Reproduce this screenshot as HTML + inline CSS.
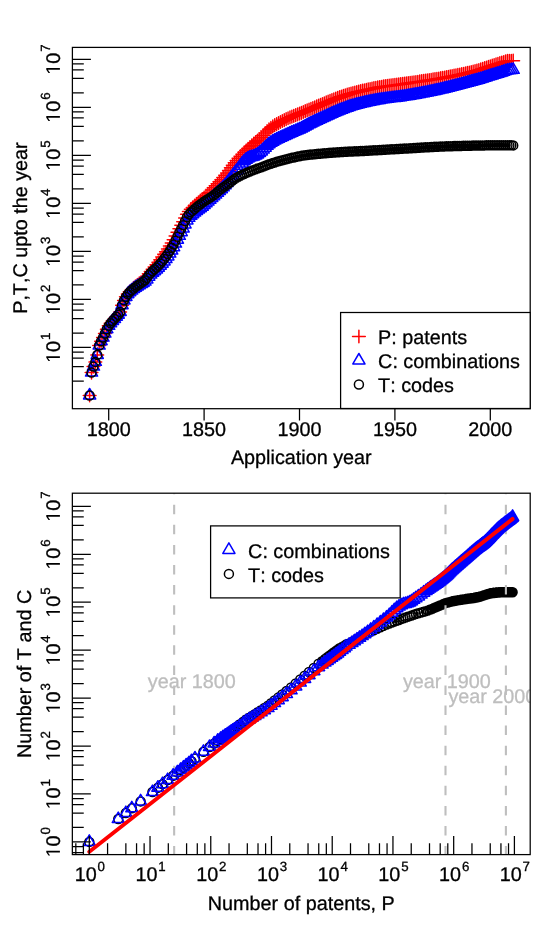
<!DOCTYPE html>
<html><head><meta charset="utf-8"><title>chart</title>
<style>html,body{margin:0;padding:0;background:#fff}svg{display:block;will-change:transform}</style></head>
<body>
<svg width="554" height="927" viewBox="0 0 554 927">
<rect width="554" height="927" fill="#fff"/>
<g font-family="Liberation Sans, sans-serif" font-size="19.8" fill="#000" stroke="#000" stroke-width="0.3" style="font-kerning:none;text-rendering:geometricPrecision">
<path d="M83.26 395.5h12.72M89.62 389.14v12.72M85.17 372.59h12.72M91.53 366.23v12.72M87.08 366.59h12.72M93.44 360.23v12.72M88.98 361.88h12.72M95.34 355.52v12.72M90.89 354.91h12.72M97.25 348.55v12.72M92.8 345.55h12.72M99.16 339.19v12.72M94.71 341.23h12.72M101.07 334.87v12.72M96.62 337.62h12.72M102.98 331.26v12.72M98.52 333.54h12.72M104.88 327.18v12.72M100.43 329.22h12.72M106.79 322.86v12.72M102.34 325.86h12.72M108.7 319.5v12.72M104.25 323.31h12.72M110.61 316.95v12.72M106.16 321.05h12.72M112.52 314.69v12.72M108.06 318.89h12.72M114.42 312.53v12.72M109.97 316.73h12.72M116.33 310.37v12.72M111.88 314.69h12.72M118.24 308.33v12.72M113.79 311.93h12.72M120.15 305.57v12.72M115.7 305.2h12.72M122.06 298.84v12.72M117.6 300.4h12.72M123.96 294.04v12.72M119.51 296.77h12.72M125.87 290.41v12.72M121.42 293.88h12.72M127.78 287.52v12.72M123.33 291.66h12.72M129.69 285.3v12.72M125.24 289.77h12.72M131.6 283.41v12.72M127.14 287.98h12.72M133.5 281.62v12.72M129.05 286.32h12.72M135.41 279.96v12.72M130.96 284.75h12.72M137.32 278.39v12.72M132.87 283.39h12.72M139.23 277.03v12.72M134.78 282.01h12.72M141.14 275.65v12.72M136.68 280.62h12.72M143.04 274.26v12.72M138.59 279.06h12.72M144.95 272.7v12.72M140.5 276.65h12.72M146.86 270.29v12.72M142.41 273.72h12.72M148.77 267.36v12.72M144.32 271.5h12.72M150.68 265.14v12.72M146.22 269.13h12.72M152.58 262.77v12.72M148.13 266.88h12.72M154.49 260.52v12.72M150.04 264.63h12.72M156.4 258.27v12.72M151.95 262.25h12.72M158.31 255.89v12.72M153.86 259.69h12.72M160.22 253.33v12.72M155.76 257.03h12.72M162.12 250.67v12.72M157.67 254.25h12.72M164.03 247.89v12.72M159.58 251.77h12.72M165.94 245.41v12.72M161.49 249.06h12.72M167.85 242.7v12.72M163.4 246.12h12.72M169.76 239.76v12.72M165.3 242.98h12.72M171.66 236.62v12.72M167.21 239.63h12.72M173.57 233.27v12.72M169.12 235.92h12.72M175.48 229.56v12.72M171.03 232.26h12.72M177.39 225.9v12.72M172.94 228.66h12.72M179.3 222.3v12.72M174.84 225.22h12.72M181.2 218.86v12.72M176.75 221.76h12.72M183.11 215.4v12.72M178.66 217.95h12.72M185.02 211.59v12.72M180.57 214.22h12.72M186.93 207.86v12.72M182.48 211.4h12.72M188.84 205.04v12.72M184.38 209.23h12.72M190.74 202.87v12.72M186.29 207.39h12.72M192.65 201.03v12.72M188.2 205.64h12.72M194.56 199.28v12.72M190.11 203.9h12.72M196.47 197.54v12.72M192.02 202.27h12.72M198.38 195.91v12.72M193.92 200.71h12.72M200.28 194.35v12.72M195.83 199.15h12.72M202.19 192.79v12.72M197.74 197.62h12.72M204.1 191.26v12.72M199.65 195.66h12.72M206.01 189.3v12.72M201.56 193.8h12.72M207.92 187.44v12.72M203.46 192.53h12.72M209.82 186.17v12.72M205.37 190.08h12.72M211.73 183.72v12.72M207.28 187.85h12.72M213.64 181.49v12.72M209.19 185.85h12.72M215.55 179.49v12.72M211.1 183.82h12.72M217.46 177.46v12.72M213 181.79h12.72M219.36 175.43v12.72M214.91 179.73h12.72M221.27 173.37v12.72M216.82 177.6h12.72M223.18 171.24v12.72M218.73 175.35h12.72M225.09 168.99v12.72M220.64 172.95h12.72M227 166.59v12.72M222.54 170.43h12.72M228.9 164.07v12.72M224.45 167.86h12.72M230.81 161.5v12.72M226.36 165.3h12.72M232.72 158.94v12.72M228.27 162.8h12.72M234.63 156.44v12.72M230.18 160.43h12.72M236.54 154.07v12.72M232.08 158.23h12.72M238.44 151.87v12.72M233.99 156.19h12.72M240.35 149.83v12.72M235.9 154.25h12.72M242.26 147.89v12.72M237.81 152.37h12.72M244.17 146.01v12.72M239.72 150.56h12.72M246.08 144.2v12.72M241.62 148.8h12.72M247.98 142.44v12.72M243.53 147.08h12.72M249.89 140.72v12.72M245.44 145.38h12.72M251.8 139.02v12.72M247.35 143.72h12.72M253.71 137.36v12.72M249.26 142.17h12.72M255.62 135.81v12.72M251.16 140.65h12.72M257.52 134.29v12.72M253.07 139.05h12.72M259.43 132.69v12.72M254.98 137.25h12.72M261.34 130.89v12.72M256.89 135.22h12.72M263.25 128.86v12.72M258.8 133.11h12.72M265.16 126.75v12.72M260.7 131.07h12.72M267.06 124.71v12.72M262.61 129.24h12.72M268.97 122.88v12.72M264.52 127.74h12.72M270.88 121.38v12.72M266.43 126.42h12.72M272.79 120.06v12.72M268.34 125.22h12.72M274.7 118.86v12.72M270.24 124.1h12.72M276.6 117.74v12.72M272.15 123.04h12.72M278.51 116.68v12.72M274.06 122h12.72M280.42 115.64v12.72M275.97 121h12.72M282.33 114.64v12.72M277.88 120.05h12.72M284.24 113.69v12.72M279.78 119.14h12.72M286.14 112.78v12.72M281.69 118.26h12.72M288.05 111.9v12.72M283.6 117.41h12.72M289.96 111.05v12.72M285.51 116.59h12.72M291.87 110.23v12.72M287.42 115.81h12.72M293.78 109.45v12.72M289.32 115.06h12.72M295.68 108.7v12.72M291.23 114.31h12.72M297.59 107.95v12.72M293.14 113.56h12.72M299.5 107.2v12.72M295.05 112.78h12.72M301.41 106.42v12.72M296.96 112h12.72M303.32 105.64v12.72M298.86 111.21h12.72M305.22 104.85v12.72M300.77 110.43h12.72M307.13 104.07v12.72M302.68 109.64h12.72M309.04 103.28v12.72M304.59 108.84h12.72M310.95 102.48v12.72M306.5 108.04h12.72M312.86 101.68v12.72M308.4 107.24h12.72M314.76 100.88v12.72M310.31 106.43h12.72M316.67 100.07v12.72M312.22 105.62h12.72M318.58 99.26v12.72M314.13 104.82h12.72M320.49 98.46v12.72M316.04 104.02h12.72M322.4 97.66v12.72M317.94 103.24h12.72M324.3 96.88v12.72M319.85 102.45h12.72M326.21 96.09v12.72M321.76 101.66h12.72M328.12 95.3v12.72M323.67 100.88h12.72M330.03 94.52v12.72M325.58 100.1h12.72M331.94 93.74v12.72M327.48 99.33h12.72M333.84 92.97v12.72M329.39 98.59h12.72M335.75 92.23v12.72M331.3 97.88h12.72M337.66 91.52v12.72M333.21 97.21h12.72M339.57 90.85v12.72M335.12 96.55h12.72M341.48 90.19v12.72M337.02 95.91h12.72M343.38 89.55v12.72M338.93 95.28h12.72M345.29 88.92v12.72M340.84 94.68h12.72M347.2 88.32v12.72M342.75 94.1h12.72M349.11 87.74v12.72M344.66 93.54h12.72M351.02 87.18v12.72M346.56 93.01h12.72M352.92 86.65v12.72M348.47 92.51h12.72M354.83 86.15v12.72M350.38 92.03h12.72M356.74 85.67v12.72M352.29 91.58h12.72M358.65 85.22v12.72M354.2 91.14h12.72M360.56 84.78v12.72M356.1 90.71h12.72M362.46 84.35v12.72M358.01 90.29h12.72M364.37 83.93v12.72M359.92 89.88h12.72M366.28 83.52v12.72M361.83 89.47h12.72M368.19 83.11v12.72M363.74 89.05h12.72M370.1 82.69v12.72M365.64 88.64h12.72M372 82.28v12.72M367.55 88.23h12.72M373.91 81.87v12.72M369.46 87.84h12.72M375.82 81.48v12.72M371.37 87.45h12.72M377.73 81.09v12.72M373.28 87.09h12.72M379.64 80.73v12.72M375.18 86.76h12.72M381.54 80.4v12.72M377.09 86.46h12.72M383.45 80.1v12.72M379 86.17h12.72M385.36 79.81v12.72M380.91 85.91h12.72M387.27 79.55v12.72M382.82 85.66h12.72M389.18 79.3v12.72M384.72 85.41h12.72M391.08 79.05v12.72M386.63 85.17h12.72M392.99 78.81v12.72M388.54 84.94h12.72M394.9 78.58v12.72M390.45 84.7h12.72M396.81 78.34v12.72M392.36 84.45h12.72M398.72 78.09v12.72M394.26 84.19h12.72M400.62 77.83v12.72M396.17 83.92h12.72M402.53 77.56v12.72M398.08 83.66h12.72M404.44 77.3v12.72M399.99 83.39h12.72M406.35 77.03v12.72M401.9 83.12h12.72M408.26 76.76v12.72M403.8 82.85h12.72M410.16 76.49v12.72M405.71 82.58h12.72M412.07 76.22v12.72M407.62 82.31h12.72M413.98 75.95v12.72M409.53 82.04h12.72M415.89 75.68v12.72M411.44 81.76h12.72M417.8 75.4v12.72M413.34 81.48h12.72M419.7 75.12v12.72M415.25 81.2h12.72M421.61 74.84v12.72M417.16 80.92h12.72M423.52 74.56v12.72M419.07 80.63h12.72M425.43 74.27v12.72M420.98 80.35h12.72M427.34 73.99v12.72M422.88 80.06h12.72M429.24 73.7v12.72M424.79 79.77h12.72M431.15 73.41v12.72M426.7 79.47h12.72M433.06 73.11v12.72M428.61 79.17h12.72M434.97 72.81v12.72M430.52 78.86h12.72M436.88 72.5v12.72M432.42 78.55h12.72M438.78 72.19v12.72M434.33 78.23h12.72M440.69 71.87v12.72M436.24 77.9h12.72M442.6 71.54v12.72M438.15 77.55h12.72M444.51 71.19v12.72M440.06 77.2h12.72M446.42 70.84v12.72M441.96 76.84h12.72M448.32 70.48v12.72M443.87 76.47h12.72M450.23 70.11v12.72M445.78 76.1h12.72M452.14 69.74v12.72M447.69 75.72h12.72M454.05 69.36v12.72M449.6 75.35h12.72M455.96 68.99v12.72M451.5 74.96h12.72M457.86 68.6v12.72M453.41 74.58h12.72M459.77 68.22v12.72M455.32 74.18h12.72M461.68 67.82v12.72M457.23 73.78h12.72M463.59 67.42v12.72M459.14 73.37h12.72M465.5 67.01v12.72M461.04 72.95h12.72M467.4 66.59v12.72M462.95 72.51h12.72M469.31 66.15v12.72M464.86 72.06h12.72M471.22 65.7v12.72M466.77 71.59h12.72M473.13 65.23v12.72M468.68 71.11h12.72M475.04 64.75v12.72M470.58 70.6h12.72M476.94 64.24v12.72M472.49 70.05h12.72M478.85 63.69v12.72M474.4 69.46h12.72M480.76 63.1v12.72M476.31 68.85h12.72M482.67 62.49v12.72M478.22 68.22h12.72M484.58 61.86v12.72M480.12 67.59h12.72M486.48 61.23v12.72M482.03 66.97h12.72M488.39 60.61v12.72M483.94 66.36h12.72M490.3 60v12.72M485.85 65.72h12.72M492.21 59.36v12.72M487.76 65.08h12.72M494.12 58.72v12.72M489.66 64.45h12.72M496.02 58.09v12.72M491.57 63.83h12.72M497.93 57.47v12.72M493.48 63.23h12.72M499.84 56.87v12.72M495.39 62.66h12.72M501.75 56.3v12.72M497.3 62h12.72M503.66 55.64v12.72M499.2 61.38h12.72M505.56 55.02v12.72M501.11 60.94h12.72M507.47 54.58v12.72M503.02 60.8h12.72M509.38 54.44v12.72M504.93 60.75h12.72M511.29 54.39v12.72M506.84 60.73h12.72M513.2 54.37v12.72" fill="none" stroke="#f00" stroke-width="1.5" stroke-linecap="round"/>
<path d="M89.62 388.5l6.06 10.49h-12.12zM91.53 365.59l6.06 10.49h-12.12zM93.44 359.59l6.06 10.49h-12.12zM95.34 354.88l6.06 10.49h-12.12zM97.25 347.92l6.06 10.49h-12.12zM99.16 338.55l6.06 10.49h-12.12zM101.07 334.23l6.06 10.49h-12.12zM102.98 330.63l6.06 10.49h-12.12zM104.88 326.55l6.06 10.49h-12.12zM106.79 322.22l6.06 10.49h-12.12zM108.7 318.86l6.06 10.49h-12.12zM110.61 316.31l6.06 10.49h-12.12zM112.52 314.06l6.06 10.49h-12.12zM114.42 311.9l6.06 10.49h-12.12zM116.33 309.73l6.06 10.49h-12.12zM118.24 307.7l6.06 10.49h-12.12zM120.15 304.93l6.06 10.49h-12.12zM122.06 298.21l6.06 10.49h-12.12zM123.96 293.4l6.06 10.49h-12.12zM125.87 289.91l6.06 10.49h-12.12zM127.78 287.16l6.06 10.49h-12.12zM129.69 285.22l6.06 10.49h-12.12zM131.6 283.61l6.06 10.49h-12.12zM133.5 282.1l6.06 10.49h-12.12zM135.41 280.72l6.06 10.49h-12.12zM137.32 279.44l6.06 10.49h-12.12zM139.23 278.28l6.06 10.49h-12.12zM141.14 277.12l6.06 10.49h-12.12zM143.04 275.95l6.06 10.49h-12.12zM144.95 274.6l6.06 10.49h-12.12zM146.86 272.4l6.06 10.49h-12.12zM148.77 269.64l6.06 10.49h-12.12zM150.68 267.6l6.06 10.49h-12.12zM152.58 265.81l6.06 10.49h-12.12zM154.49 264.15l6.06 10.49h-12.12zM156.4 262.49l6.06 10.49h-12.12zM158.31 260.7l6.06 10.49h-12.12zM160.22 258.72l6.06 10.49h-12.12zM162.12 256.65l6.06 10.49h-12.12zM164.03 254.45l6.06 10.49h-12.12zM165.94 252.05l6.06 10.49h-12.12zM167.85 249.43l6.06 10.49h-12.12zM169.76 246.57l6.06 10.49h-12.12zM171.66 243.51l6.06 10.49h-12.12zM173.57 240.24l6.06 10.49h-12.12zM175.48 236.61l6.06 10.49h-12.12zM177.39 232.71l6.06 10.49h-12.12zM179.3 228.87l6.06 10.49h-12.12zM181.2 225.18l6.06 10.49h-12.12zM183.11 221.49l6.06 10.49h-12.12zM185.02 217.44l6.06 10.49h-12.12zM186.93 213.46l6.06 10.49h-12.12zM188.84 210.82l6.06 10.49h-12.12zM190.74 208.84l6.06 10.49h-12.12zM192.65 207.17l6.06 10.49h-12.12zM194.56 205.6l6.06 10.49h-12.12zM196.47 204.03l6.06 10.49h-12.12zM198.38 202.55l6.06 10.49h-12.12zM200.28 201.15l6.06 10.49h-12.12zM202.19 199.75l6.06 10.49h-12.12zM204.1 198.03l6.06 10.49h-12.12zM206.01 196.31l6.06 10.49h-12.12zM207.92 194.58l6.06 10.49h-12.12zM209.82 192.84l6.06 10.49h-12.12zM211.73 191.1l6.06 10.49h-12.12zM213.64 189.35l6.06 10.49h-12.12zM215.55 187.6l6.06 10.49h-12.12zM217.46 185.82l6.06 10.49h-12.12zM219.36 184.05l6.06 10.49h-12.12zM221.27 182.26l6.06 10.49h-12.12zM223.18 180.38l6.06 10.49h-12.12zM225.09 178.3l6.06 10.49h-12.12zM227 176.03l6.06 10.49h-12.12zM228.9 173.62l6.06 10.49h-12.12zM230.81 171.13l6.06 10.49h-12.12zM232.72 168.61l6.06 10.49h-12.12zM234.63 166.11l6.06 10.49h-12.12zM236.54 163.71l6.06 10.49h-12.12zM238.44 161.32l6.06 10.49h-12.12zM240.35 158.82l6.06 10.49h-12.12zM242.26 156.41l6.06 10.49h-12.12zM244.17 154.32l6.06 10.49h-12.12zM246.08 152.74l6.06 10.49h-12.12zM247.98 151.5l6.06 10.49h-12.12zM249.89 150.45l6.06 10.49h-12.12zM251.8 150.08l6.06 10.49h-12.12zM253.71 149.46l6.06 10.49h-12.12zM255.62 148.59l6.06 10.49h-12.12zM257.52 147.44l6.06 10.49h-12.12zM259.43 145.98l6.06 10.49h-12.12zM261.34 144.4l6.06 10.49h-12.12zM263.25 142.57l6.06 10.49h-12.12zM265.16 140.65l6.06 10.49h-12.12zM267.06 138.79l6.06 10.49h-12.12zM268.97 137.14l6.06 10.49h-12.12zM270.88 135.81l6.06 10.49h-12.12zM272.79 134.65l6.06 10.49h-12.12zM274.7 133.59l6.06 10.49h-12.12zM276.6 132.63l6.06 10.49h-12.12zM278.51 131.73l6.06 10.49h-12.12zM280.42 130.84l6.06 10.49h-12.12zM282.33 129.97l6.06 10.49h-12.12zM284.24 129.11l6.06 10.49h-12.12zM286.14 128.23l6.06 10.49h-12.12zM288.05 127.35l6.06 10.49h-12.12zM289.96 126.48l6.06 10.49h-12.12zM291.87 125.64l6.06 10.49h-12.12zM293.78 124.82l6.06 10.49h-12.12zM295.68 124.03l6.06 10.49h-12.12zM297.59 123.23l6.06 10.49h-12.12zM299.5 122.41l6.06 10.49h-12.12zM301.41 121.51l6.06 10.49h-12.12zM303.32 120.5l6.06 10.49h-12.12zM305.22 119.45l6.06 10.49h-12.12zM307.13 118.39l6.06 10.49h-12.12zM309.04 117.37l6.06 10.49h-12.12zM310.95 116.43l6.06 10.49h-12.12zM312.86 115.51l6.06 10.49h-12.12zM314.76 114.6l6.06 10.49h-12.12zM316.67 113.7l6.06 10.49h-12.12zM318.58 112.81l6.06 10.49h-12.12zM320.49 111.92l6.06 10.49h-12.12zM322.4 111.04l6.06 10.49h-12.12zM324.3 110.17l6.06 10.49h-12.12zM326.21 109.3l6.06 10.49h-12.12zM328.12 108.42l6.06 10.49h-12.12zM330.03 107.55l6.06 10.49h-12.12zM331.94 106.69l6.06 10.49h-12.12zM333.84 105.84l6.06 10.49h-12.12zM335.75 105.03l6.06 10.49h-12.12zM337.66 104.24l6.06 10.49h-12.12zM339.57 103.48l6.06 10.49h-12.12zM341.48 102.75l6.06 10.49h-12.12zM343.38 102.03l6.06 10.49h-12.12zM345.29 101.32l6.06 10.49h-12.12zM347.2 100.64l6.06 10.49h-12.12zM349.11 99.99l6.06 10.49h-12.12zM351.02 99.38l6.06 10.49h-12.12zM352.92 98.8l6.06 10.49h-12.12zM354.83 98.26l6.06 10.49h-12.12zM356.74 97.75l6.06 10.49h-12.12zM358.65 97.26l6.06 10.49h-12.12zM360.56 96.79l6.06 10.49h-12.12zM362.46 96.33l6.06 10.49h-12.12zM364.37 95.89l6.06 10.49h-12.12zM366.28 95.47l6.06 10.49h-12.12zM368.19 95.05l6.06 10.49h-12.12zM370.1 94.66l6.06 10.49h-12.12zM372 94.28l6.06 10.49h-12.12zM373.91 93.92l6.06 10.49h-12.12zM375.82 93.58l6.06 10.49h-12.12zM377.73 93.25l6.06 10.49h-12.12zM379.64 92.93l6.06 10.49h-12.12zM381.54 92.63l6.06 10.49h-12.12zM383.45 92.34l6.06 10.49h-12.12zM385.36 92.08l6.06 10.49h-12.12zM387.27 91.83l6.06 10.49h-12.12zM389.18 91.59l6.06 10.49h-12.12zM391.08 91.36l6.06 10.49h-12.12zM392.99 91.13l6.06 10.49h-12.12zM394.9 90.9l6.06 10.49h-12.12zM396.81 90.66l6.06 10.49h-12.12zM398.72 90.42l6.06 10.49h-12.12zM400.62 90.16l6.06 10.49h-12.12zM402.53 89.88l6.06 10.49h-12.12zM404.44 89.6l6.06 10.49h-12.12zM406.35 89.3l6.06 10.49h-12.12zM408.26 88.99l6.06 10.49h-12.12zM410.16 88.67l6.06 10.49h-12.12zM412.07 88.34l6.06 10.49h-12.12zM413.98 88l6.06 10.49h-12.12zM415.89 87.66l6.06 10.49h-12.12zM417.8 87.31l6.06 10.49h-12.12zM419.7 86.96l6.06 10.49h-12.12zM421.61 86.6l6.06 10.49h-12.12zM423.52 86.24l6.06 10.49h-12.12zM425.43 85.88l6.06 10.49h-12.12zM427.34 85.51l6.06 10.49h-12.12zM429.24 85.12l6.06 10.49h-12.12zM431.15 84.73l6.06 10.49h-12.12zM433.06 84.32l6.06 10.49h-12.12zM434.97 83.91l6.06 10.49h-12.12zM436.88 83.48l6.06 10.49h-12.12zM438.78 83.05l6.06 10.49h-12.12zM440.69 82.62l6.06 10.49h-12.12zM442.6 82.17l6.06 10.49h-12.12zM444.51 81.71l6.06 10.49h-12.12zM446.42 81.25l6.06 10.49h-12.12zM448.32 80.77l6.06 10.49h-12.12zM450.23 80.3l6.06 10.49h-12.12zM452.14 79.81l6.06 10.49h-12.12zM454.05 79.33l6.06 10.49h-12.12zM455.96 78.83l6.06 10.49h-12.12zM457.86 78.33l6.06 10.49h-12.12zM459.77 77.82l6.06 10.49h-12.12zM461.68 77.31l6.06 10.49h-12.12zM463.59 76.79l6.06 10.49h-12.12zM465.5 76.28l6.06 10.49h-12.12zM467.4 75.76l6.06 10.49h-12.12zM469.31 75.25l6.06 10.49h-12.12zM471.22 74.74l6.06 10.49h-12.12zM473.13 74.23l6.06 10.49h-12.12zM475.04 73.72l6.06 10.49h-12.12zM476.94 73.21l6.06 10.49h-12.12zM478.85 72.66l6.06 10.49h-12.12zM480.76 72.07l6.06 10.49h-12.12zM482.67 71.46l6.06 10.49h-12.12zM484.58 70.83l6.06 10.49h-12.12zM486.48 70.2l6.06 10.49h-12.12zM488.39 69.58l6.06 10.49h-12.12zM490.3 68.98l6.06 10.49h-12.12zM492.21 68.39l6.06 10.49h-12.12zM494.12 67.8l6.06 10.49h-12.12zM496.02 67.22l6.06 10.49h-12.12zM497.93 66.64l6.06 10.49h-12.12zM499.84 66.08l6.06 10.49h-12.12zM501.75 65.5l6.06 10.49h-12.12zM503.66 64.79l6.06 10.49h-12.12zM505.56 64.08l6.06 10.49h-12.12zM507.47 63.52l6.06 10.49h-12.12zM509.38 63.27l6.06 10.49h-12.12zM511.29 63.06l6.06 10.49h-12.12zM513.2 62.86l6.06 10.49h-12.12z" fill="none" stroke="#00f" stroke-width="1.5" stroke-linejoin="round"/>
<path d="M85.12 395.5a4.5 4.5 0 1 0 9 0a4.5 4.5 0 1 0 -9 0M87.03 372.59a4.5 4.5 0 1 0 9 0a4.5 4.5 0 1 0 -9 0M88.94 366.59a4.5 4.5 0 1 0 9 0a4.5 4.5 0 1 0 -9 0M90.84 361.88a4.5 4.5 0 1 0 9 0a4.5 4.5 0 1 0 -9 0M92.75 354.91a4.5 4.5 0 1 0 9 0a4.5 4.5 0 1 0 -9 0M94.66 345.55a4.5 4.5 0 1 0 9 0a4.5 4.5 0 1 0 -9 0M96.57 341.23a4.5 4.5 0 1 0 9 0a4.5 4.5 0 1 0 -9 0M98.48 337.62a4.5 4.5 0 1 0 9 0a4.5 4.5 0 1 0 -9 0M100.38 333.54a4.5 4.5 0 1 0 9 0a4.5 4.5 0 1 0 -9 0M102.29 329.22a4.5 4.5 0 1 0 9 0a4.5 4.5 0 1 0 -9 0M104.2 325.86a4.5 4.5 0 1 0 9 0a4.5 4.5 0 1 0 -9 0M106.11 323.31a4.5 4.5 0 1 0 9 0a4.5 4.5 0 1 0 -9 0M108.02 321.05a4.5 4.5 0 1 0 9 0a4.5 4.5 0 1 0 -9 0M109.92 318.89a4.5 4.5 0 1 0 9 0a4.5 4.5 0 1 0 -9 0M111.83 316.73a4.5 4.5 0 1 0 9 0a4.5 4.5 0 1 0 -9 0M113.74 314.69a4.5 4.5 0 1 0 9 0a4.5 4.5 0 1 0 -9 0M115.65 311.93a4.5 4.5 0 1 0 9 0a4.5 4.5 0 1 0 -9 0M117.56 305.2a4.5 4.5 0 1 0 9 0a4.5 4.5 0 1 0 -9 0M119.46 300.4a4.5 4.5 0 1 0 9 0a4.5 4.5 0 1 0 -9 0M121.37 296.9a4.5 4.5 0 1 0 9 0a4.5 4.5 0 1 0 -9 0M123.28 294.16a4.5 4.5 0 1 0 9 0a4.5 4.5 0 1 0 -9 0M125.19 292.07a4.5 4.5 0 1 0 9 0a4.5 4.5 0 1 0 -9 0M127.1 290.31a4.5 4.5 0 1 0 9 0a4.5 4.5 0 1 0 -9 0M129 288.67a4.5 4.5 0 1 0 9 0a4.5 4.5 0 1 0 -9 0M130.91 287.14a4.5 4.5 0 1 0 9 0a4.5 4.5 0 1 0 -9 0M132.82 285.71a4.5 4.5 0 1 0 9 0a4.5 4.5 0 1 0 -9 0M134.73 284.42a4.5 4.5 0 1 0 9 0a4.5 4.5 0 1 0 -9 0M136.64 283.11a4.5 4.5 0 1 0 9 0a4.5 4.5 0 1 0 -9 0M138.54 281.79a4.5 4.5 0 1 0 9 0a4.5 4.5 0 1 0 -9 0M140.45 280.3a4.5 4.5 0 1 0 9 0a4.5 4.5 0 1 0 -9 0M142.36 277.95a4.5 4.5 0 1 0 9 0a4.5 4.5 0 1 0 -9 0M144.27 275.09a4.5 4.5 0 1 0 9 0a4.5 4.5 0 1 0 -9 0M146.18 272.94a4.5 4.5 0 1 0 9 0a4.5 4.5 0 1 0 -9 0M148.08 271.05a4.5 4.5 0 1 0 9 0a4.5 4.5 0 1 0 -9 0M149.99 269.28a4.5 4.5 0 1 0 9 0a4.5 4.5 0 1 0 -9 0M151.9 267.51a4.5 4.5 0 1 0 9 0a4.5 4.5 0 1 0 -9 0M153.81 265.62a4.5 4.5 0 1 0 9 0a4.5 4.5 0 1 0 -9 0M155.72 263.53a4.5 4.5 0 1 0 9 0a4.5 4.5 0 1 0 -9 0M157.62 261.35a4.5 4.5 0 1 0 9 0a4.5 4.5 0 1 0 -9 0M159.53 259.05a4.5 4.5 0 1 0 9 0a4.5 4.5 0 1 0 -9 0M161.44 256.57a4.5 4.5 0 1 0 9 0a4.5 4.5 0 1 0 -9 0M163.35 253.86a4.5 4.5 0 1 0 9 0a4.5 4.5 0 1 0 -9 0M165.26 250.93a4.5 4.5 0 1 0 9 0a4.5 4.5 0 1 0 -9 0M167.16 247.78a4.5 4.5 0 1 0 9 0a4.5 4.5 0 1 0 -9 0M169.07 244.44a4.5 4.5 0 1 0 9 0a4.5 4.5 0 1 0 -9 0M170.98 240.72a4.5 4.5 0 1 0 9 0a4.5 4.5 0 1 0 -9 0M172.89 236.75a4.5 4.5 0 1 0 9 0a4.5 4.5 0 1 0 -9 0M174.8 232.83a4.5 4.5 0 1 0 9 0a4.5 4.5 0 1 0 -9 0M176.7 229.06a4.5 4.5 0 1 0 9 0a4.5 4.5 0 1 0 -9 0M178.61 225.28a4.5 4.5 0 1 0 9 0a4.5 4.5 0 1 0 -9 0M180.52 221.16a4.5 4.5 0 1 0 9 0a4.5 4.5 0 1 0 -9 0M182.43 217.1a4.5 4.5 0 1 0 9 0a4.5 4.5 0 1 0 -9 0M184.34 214.4a4.5 4.5 0 1 0 9 0a4.5 4.5 0 1 0 -9 0M186.24 212.35a4.5 4.5 0 1 0 9 0a4.5 4.5 0 1 0 -9 0M188.15 210.63a4.5 4.5 0 1 0 9 0a4.5 4.5 0 1 0 -9 0M190.06 209a4.5 4.5 0 1 0 9 0a4.5 4.5 0 1 0 -9 0M191.97 207.36a4.5 4.5 0 1 0 9 0a4.5 4.5 0 1 0 -9 0M193.88 205.83a4.5 4.5 0 1 0 9 0a4.5 4.5 0 1 0 -9 0M195.78 204.36a4.5 4.5 0 1 0 9 0a4.5 4.5 0 1 0 -9 0M197.69 202.9a4.5 4.5 0 1 0 9 0a4.5 4.5 0 1 0 -9 0M199.6 201.46a4.5 4.5 0 1 0 9 0a4.5 4.5 0 1 0 -9 0M201.51 200.19a4.5 4.5 0 1 0 9 0a4.5 4.5 0 1 0 -9 0M203.42 199.01a4.5 4.5 0 1 0 9 0a4.5 4.5 0 1 0 -9 0M205.32 197.85a4.5 4.5 0 1 0 9 0a4.5 4.5 0 1 0 -9 0M207.23 196.63a4.5 4.5 0 1 0 9 0a4.5 4.5 0 1 0 -9 0M209.14 195.26a4.5 4.5 0 1 0 9 0a4.5 4.5 0 1 0 -9 0M211.05 193.68a4.5 4.5 0 1 0 9 0a4.5 4.5 0 1 0 -9 0M212.96 192a4.5 4.5 0 1 0 9 0a4.5 4.5 0 1 0 -9 0M214.86 190.41a4.5 4.5 0 1 0 9 0a4.5 4.5 0 1 0 -9 0M216.77 188.96a4.5 4.5 0 1 0 9 0a4.5 4.5 0 1 0 -9 0M218.68 187.58a4.5 4.5 0 1 0 9 0a4.5 4.5 0 1 0 -9 0M220.59 186.22a4.5 4.5 0 1 0 9 0a4.5 4.5 0 1 0 -9 0M222.5 184.86a4.5 4.5 0 1 0 9 0a4.5 4.5 0 1 0 -9 0M224.4 183.46a4.5 4.5 0 1 0 9 0a4.5 4.5 0 1 0 -9 0M226.31 181.98a4.5 4.5 0 1 0 9 0a4.5 4.5 0 1 0 -9 0M228.22 180.5a4.5 4.5 0 1 0 9 0a4.5 4.5 0 1 0 -9 0M230.13 179.08a4.5 4.5 0 1 0 9 0a4.5 4.5 0 1 0 -9 0M232.04 177.82a4.5 4.5 0 1 0 9 0a4.5 4.5 0 1 0 -9 0M233.94 176.73a4.5 4.5 0 1 0 9 0a4.5 4.5 0 1 0 -9 0M235.85 175.75a4.5 4.5 0 1 0 9 0a4.5 4.5 0 1 0 -9 0M237.76 174.84a4.5 4.5 0 1 0 9 0a4.5 4.5 0 1 0 -9 0M239.67 173.97a4.5 4.5 0 1 0 9 0a4.5 4.5 0 1 0 -9 0M241.58 173.1a4.5 4.5 0 1 0 9 0a4.5 4.5 0 1 0 -9 0M243.48 172.24a4.5 4.5 0 1 0 9 0a4.5 4.5 0 1 0 -9 0M245.39 171.42a4.5 4.5 0 1 0 9 0a4.5 4.5 0 1 0 -9 0M247.3 170.65a4.5 4.5 0 1 0 9 0a4.5 4.5 0 1 0 -9 0M249.21 169.97a4.5 4.5 0 1 0 9 0a4.5 4.5 0 1 0 -9 0M251.12 169.31a4.5 4.5 0 1 0 9 0a4.5 4.5 0 1 0 -9 0M253.02 168.62a4.5 4.5 0 1 0 9 0a4.5 4.5 0 1 0 -9 0M254.93 167.9a4.5 4.5 0 1 0 9 0a4.5 4.5 0 1 0 -9 0M256.84 167.17a4.5 4.5 0 1 0 9 0a4.5 4.5 0 1 0 -9 0M258.75 166.44a4.5 4.5 0 1 0 9 0a4.5 4.5 0 1 0 -9 0M260.66 165.72a4.5 4.5 0 1 0 9 0a4.5 4.5 0 1 0 -9 0M262.56 165.01a4.5 4.5 0 1 0 9 0a4.5 4.5 0 1 0 -9 0M264.47 164.33a4.5 4.5 0 1 0 9 0a4.5 4.5 0 1 0 -9 0M266.38 163.67a4.5 4.5 0 1 0 9 0a4.5 4.5 0 1 0 -9 0M268.29 163.04a4.5 4.5 0 1 0 9 0a4.5 4.5 0 1 0 -9 0M270.2 162.43a4.5 4.5 0 1 0 9 0a4.5 4.5 0 1 0 -9 0M272.1 161.85a4.5 4.5 0 1 0 9 0a4.5 4.5 0 1 0 -9 0M274.01 161.27a4.5 4.5 0 1 0 9 0a4.5 4.5 0 1 0 -9 0M275.92 160.72a4.5 4.5 0 1 0 9 0a4.5 4.5 0 1 0 -9 0M277.83 160.18a4.5 4.5 0 1 0 9 0a4.5 4.5 0 1 0 -9 0M279.74 159.67a4.5 4.5 0 1 0 9 0a4.5 4.5 0 1 0 -9 0M281.64 159.19a4.5 4.5 0 1 0 9 0a4.5 4.5 0 1 0 -9 0M283.55 158.73a4.5 4.5 0 1 0 9 0a4.5 4.5 0 1 0 -9 0M285.46 158.29a4.5 4.5 0 1 0 9 0a4.5 4.5 0 1 0 -9 0M287.37 157.85a4.5 4.5 0 1 0 9 0a4.5 4.5 0 1 0 -9 0M289.28 157.42a4.5 4.5 0 1 0 9 0a4.5 4.5 0 1 0 -9 0M291.18 156.98a4.5 4.5 0 1 0 9 0a4.5 4.5 0 1 0 -9 0M293.09 156.55a4.5 4.5 0 1 0 9 0a4.5 4.5 0 1 0 -9 0M295 156.17a4.5 4.5 0 1 0 9 0a4.5 4.5 0 1 0 -9 0M296.91 155.86a4.5 4.5 0 1 0 9 0a4.5 4.5 0 1 0 -9 0M298.82 155.57a4.5 4.5 0 1 0 9 0a4.5 4.5 0 1 0 -9 0M300.72 155.31a4.5 4.5 0 1 0 9 0a4.5 4.5 0 1 0 -9 0M302.63 155.07a4.5 4.5 0 1 0 9 0a4.5 4.5 0 1 0 -9 0M304.54 154.84a4.5 4.5 0 1 0 9 0a4.5 4.5 0 1 0 -9 0M306.45 154.62a4.5 4.5 0 1 0 9 0a4.5 4.5 0 1 0 -9 0M308.36 154.41a4.5 4.5 0 1 0 9 0a4.5 4.5 0 1 0 -9 0M310.26 154.22a4.5 4.5 0 1 0 9 0a4.5 4.5 0 1 0 -9 0M312.17 154.02a4.5 4.5 0 1 0 9 0a4.5 4.5 0 1 0 -9 0M314.08 153.84a4.5 4.5 0 1 0 9 0a4.5 4.5 0 1 0 -9 0M315.99 153.65a4.5 4.5 0 1 0 9 0a4.5 4.5 0 1 0 -9 0M317.9 153.48a4.5 4.5 0 1 0 9 0a4.5 4.5 0 1 0 -9 0M319.8 153.3a4.5 4.5 0 1 0 9 0a4.5 4.5 0 1 0 -9 0M321.71 153.13a4.5 4.5 0 1 0 9 0a4.5 4.5 0 1 0 -9 0M323.62 152.97a4.5 4.5 0 1 0 9 0a4.5 4.5 0 1 0 -9 0M325.53 152.82a4.5 4.5 0 1 0 9 0a4.5 4.5 0 1 0 -9 0M327.44 152.67a4.5 4.5 0 1 0 9 0a4.5 4.5 0 1 0 -9 0M329.34 152.52a4.5 4.5 0 1 0 9 0a4.5 4.5 0 1 0 -9 0M331.25 152.39a4.5 4.5 0 1 0 9 0a4.5 4.5 0 1 0 -9 0M333.16 152.25a4.5 4.5 0 1 0 9 0a4.5 4.5 0 1 0 -9 0M335.07 152.13a4.5 4.5 0 1 0 9 0a4.5 4.5 0 1 0 -9 0M336.98 152.02a4.5 4.5 0 1 0 9 0a4.5 4.5 0 1 0 -9 0M338.88 151.91a4.5 4.5 0 1 0 9 0a4.5 4.5 0 1 0 -9 0M340.79 151.81a4.5 4.5 0 1 0 9 0a4.5 4.5 0 1 0 -9 0M342.7 151.71a4.5 4.5 0 1 0 9 0a4.5 4.5 0 1 0 -9 0M344.61 151.62a4.5 4.5 0 1 0 9 0a4.5 4.5 0 1 0 -9 0M346.52 151.53a4.5 4.5 0 1 0 9 0a4.5 4.5 0 1 0 -9 0M348.42 151.44a4.5 4.5 0 1 0 9 0a4.5 4.5 0 1 0 -9 0M350.33 151.36a4.5 4.5 0 1 0 9 0a4.5 4.5 0 1 0 -9 0M352.24 151.27a4.5 4.5 0 1 0 9 0a4.5 4.5 0 1 0 -9 0M354.15 151.19a4.5 4.5 0 1 0 9 0a4.5 4.5 0 1 0 -9 0M356.06 151.09a4.5 4.5 0 1 0 9 0a4.5 4.5 0 1 0 -9 0M357.96 151a4.5 4.5 0 1 0 9 0a4.5 4.5 0 1 0 -9 0M359.87 150.9a4.5 4.5 0 1 0 9 0a4.5 4.5 0 1 0 -9 0M361.78 150.8a4.5 4.5 0 1 0 9 0a4.5 4.5 0 1 0 -9 0M363.69 150.69a4.5 4.5 0 1 0 9 0a4.5 4.5 0 1 0 -9 0M365.6 150.58a4.5 4.5 0 1 0 9 0a4.5 4.5 0 1 0 -9 0M367.5 150.48a4.5 4.5 0 1 0 9 0a4.5 4.5 0 1 0 -9 0M369.41 150.36a4.5 4.5 0 1 0 9 0a4.5 4.5 0 1 0 -9 0M371.32 150.25a4.5 4.5 0 1 0 9 0a4.5 4.5 0 1 0 -9 0M373.23 150.14a4.5 4.5 0 1 0 9 0a4.5 4.5 0 1 0 -9 0M375.14 150.03a4.5 4.5 0 1 0 9 0a4.5 4.5 0 1 0 -9 0M377.04 149.92a4.5 4.5 0 1 0 9 0a4.5 4.5 0 1 0 -9 0M378.95 149.81a4.5 4.5 0 1 0 9 0a4.5 4.5 0 1 0 -9 0M380.86 149.7a4.5 4.5 0 1 0 9 0a4.5 4.5 0 1 0 -9 0M382.77 149.59a4.5 4.5 0 1 0 9 0a4.5 4.5 0 1 0 -9 0M384.68 149.48a4.5 4.5 0 1 0 9 0a4.5 4.5 0 1 0 -9 0M386.58 149.37a4.5 4.5 0 1 0 9 0a4.5 4.5 0 1 0 -9 0M388.49 149.26a4.5 4.5 0 1 0 9 0a4.5 4.5 0 1 0 -9 0M390.4 149.15a4.5 4.5 0 1 0 9 0a4.5 4.5 0 1 0 -9 0M392.31 149.05a4.5 4.5 0 1 0 9 0a4.5 4.5 0 1 0 -9 0M394.22 148.94a4.5 4.5 0 1 0 9 0a4.5 4.5 0 1 0 -9 0M396.12 148.83a4.5 4.5 0 1 0 9 0a4.5 4.5 0 1 0 -9 0M398.03 148.73a4.5 4.5 0 1 0 9 0a4.5 4.5 0 1 0 -9 0M399.94 148.62a4.5 4.5 0 1 0 9 0a4.5 4.5 0 1 0 -9 0M401.85 148.51a4.5 4.5 0 1 0 9 0a4.5 4.5 0 1 0 -9 0M403.76 148.39a4.5 4.5 0 1 0 9 0a4.5 4.5 0 1 0 -9 0M405.66 148.28a4.5 4.5 0 1 0 9 0a4.5 4.5 0 1 0 -9 0M407.57 148.16a4.5 4.5 0 1 0 9 0a4.5 4.5 0 1 0 -9 0M409.48 148.05a4.5 4.5 0 1 0 9 0a4.5 4.5 0 1 0 -9 0M411.39 147.93a4.5 4.5 0 1 0 9 0a4.5 4.5 0 1 0 -9 0M413.3 147.82a4.5 4.5 0 1 0 9 0a4.5 4.5 0 1 0 -9 0M415.2 147.7a4.5 4.5 0 1 0 9 0a4.5 4.5 0 1 0 -9 0M417.11 147.58a4.5 4.5 0 1 0 9 0a4.5 4.5 0 1 0 -9 0M419.02 147.47a4.5 4.5 0 1 0 9 0a4.5 4.5 0 1 0 -9 0M420.93 147.36a4.5 4.5 0 1 0 9 0a4.5 4.5 0 1 0 -9 0M422.84 147.25a4.5 4.5 0 1 0 9 0a4.5 4.5 0 1 0 -9 0M424.74 147.14a4.5 4.5 0 1 0 9 0a4.5 4.5 0 1 0 -9 0M426.65 147.04a4.5 4.5 0 1 0 9 0a4.5 4.5 0 1 0 -9 0M428.56 146.94a4.5 4.5 0 1 0 9 0a4.5 4.5 0 1 0 -9 0M430.47 146.84a4.5 4.5 0 1 0 9 0a4.5 4.5 0 1 0 -9 0M432.38 146.74a4.5 4.5 0 1 0 9 0a4.5 4.5 0 1 0 -9 0M434.28 146.65a4.5 4.5 0 1 0 9 0a4.5 4.5 0 1 0 -9 0M436.19 146.57a4.5 4.5 0 1 0 9 0a4.5 4.5 0 1 0 -9 0M438.1 146.49a4.5 4.5 0 1 0 9 0a4.5 4.5 0 1 0 -9 0M440.01 146.41a4.5 4.5 0 1 0 9 0a4.5 4.5 0 1 0 -9 0M441.92 146.34a4.5 4.5 0 1 0 9 0a4.5 4.5 0 1 0 -9 0M443.82 146.28a4.5 4.5 0 1 0 9 0a4.5 4.5 0 1 0 -9 0M445.73 146.22a4.5 4.5 0 1 0 9 0a4.5 4.5 0 1 0 -9 0M447.64 146.17a4.5 4.5 0 1 0 9 0a4.5 4.5 0 1 0 -9 0M449.55 146.12a4.5 4.5 0 1 0 9 0a4.5 4.5 0 1 0 -9 0M451.46 146.06a4.5 4.5 0 1 0 9 0a4.5 4.5 0 1 0 -9 0M453.36 146.01a4.5 4.5 0 1 0 9 0a4.5 4.5 0 1 0 -9 0M455.27 145.96a4.5 4.5 0 1 0 9 0a4.5 4.5 0 1 0 -9 0M457.18 145.91a4.5 4.5 0 1 0 9 0a4.5 4.5 0 1 0 -9 0M459.09 145.86a4.5 4.5 0 1 0 9 0a4.5 4.5 0 1 0 -9 0M461 145.81a4.5 4.5 0 1 0 9 0a4.5 4.5 0 1 0 -9 0M462.9 145.76a4.5 4.5 0 1 0 9 0a4.5 4.5 0 1 0 -9 0M464.81 145.71a4.5 4.5 0 1 0 9 0a4.5 4.5 0 1 0 -9 0M466.72 145.67a4.5 4.5 0 1 0 9 0a4.5 4.5 0 1 0 -9 0M468.63 145.62a4.5 4.5 0 1 0 9 0a4.5 4.5 0 1 0 -9 0M470.54 145.58a4.5 4.5 0 1 0 9 0a4.5 4.5 0 1 0 -9 0M472.44 145.54a4.5 4.5 0 1 0 9 0a4.5 4.5 0 1 0 -9 0M474.35 145.5a4.5 4.5 0 1 0 9 0a4.5 4.5 0 1 0 -9 0M476.26 145.46a4.5 4.5 0 1 0 9 0a4.5 4.5 0 1 0 -9 0M478.17 145.43a4.5 4.5 0 1 0 9 0a4.5 4.5 0 1 0 -9 0M480.08 145.4a4.5 4.5 0 1 0 9 0a4.5 4.5 0 1 0 -9 0M481.98 145.37a4.5 4.5 0 1 0 9 0a4.5 4.5 0 1 0 -9 0M483.89 145.35a4.5 4.5 0 1 0 9 0a4.5 4.5 0 1 0 -9 0M485.8 145.32a4.5 4.5 0 1 0 9 0a4.5 4.5 0 1 0 -9 0M487.71 145.3a4.5 4.5 0 1 0 9 0a4.5 4.5 0 1 0 -9 0M489.62 145.29a4.5 4.5 0 1 0 9 0a4.5 4.5 0 1 0 -9 0M491.52 145.28a4.5 4.5 0 1 0 9 0a4.5 4.5 0 1 0 -9 0M493.43 145.27a4.5 4.5 0 1 0 9 0a4.5 4.5 0 1 0 -9 0M495.34 145.26a4.5 4.5 0 1 0 9 0a4.5 4.5 0 1 0 -9 0M497.25 145.26a4.5 4.5 0 1 0 9 0a4.5 4.5 0 1 0 -9 0M499.16 145.27a4.5 4.5 0 1 0 9 0a4.5 4.5 0 1 0 -9 0M501.06 145.29a4.5 4.5 0 1 0 9 0a4.5 4.5 0 1 0 -9 0M502.97 145.31a4.5 4.5 0 1 0 9 0a4.5 4.5 0 1 0 -9 0M504.88 145.34a4.5 4.5 0 1 0 9 0a4.5 4.5 0 1 0 -9 0M506.79 145.37a4.5 4.5 0 1 0 9 0a4.5 4.5 0 1 0 -9 0M508.7 145.41a4.5 4.5 0 1 0 9 0a4.5 4.5 0 1 0 -9 0" fill="none" stroke="#000" stroke-width="1.5"/>
<rect x="72.4" y="47.4" width="457.80000000000007" height="361.3" fill="none" stroke="#000" stroke-width="1.25"/>
<path d="M108.7 408.7v11.8M204.1 408.7v11.8M299.5 408.7v11.8M394.9 408.7v11.8M490.3 408.7v11.8" stroke="#000" stroke-width="1.25" fill="none"/>
<text x="108.7" y="435.7" text-anchor="middle">1800</text>
<text x="204.1" y="435.7" text-anchor="middle">1850</text>
<text x="299.5" y="435.7" text-anchor="middle">1900</text>
<text x="394.9" y="435.7" text-anchor="middle">1950</text>
<text x="490.3" y="435.7" text-anchor="middle">2000</text>
<path d="M72.4 381.04h11.4M72.4 366.58h11.4M72.4 358.13h11.4M72.4 352.12h11.4M72.4 347.47h11.4M72.4 347.47h18.5M72.4 333.01h11.4M72.4 318.55h11.4M72.4 310.1h11.4M72.4 304.09h11.4M72.4 299.44h11.4M72.4 299.44h18.5M72.4 284.98h11.4M72.4 270.52h11.4M72.4 262.07h11.4M72.4 256.06h11.4M72.4 251.41h11.4M72.4 251.41h18.5M72.4 236.95h11.4M72.4 222.49h11.4M72.4 214.04h11.4M72.4 208.03h11.4M72.4 203.38h11.4M72.4 203.38h18.5M72.4 188.92h11.4M72.4 174.46h11.4M72.4 166.01h11.4M72.4 160h11.4M72.4 155.35h11.4M72.4 155.35h18.5M72.4 140.89h11.4M72.4 126.43h11.4M72.4 117.98h11.4M72.4 111.97h11.4M72.4 107.32h11.4M72.4 107.32h18.5M72.4 92.86h11.4M72.4 78.4h11.4M72.4 69.95h11.4M72.4 63.94h11.4M72.4 59.29h11.4M72.4 59.29h18.5" stroke="#000" stroke-width="1.25" fill="none"/>
<g transform="translate(59.9 347.47) rotate(-90)"><path d="M515 0V1237L197 1010V1180L530 1409H696V0Z" transform="translate(-15.5 0) scale(0.00967 -0.00967)"/><text x="-4.49" y="0">0</text><text x="7.5" y="-9.8" font-size="13.3">1</text></g>
<g transform="translate(59.9 299.44) rotate(-90)"><path d="M515 0V1237L197 1010V1180L530 1409H696V0Z" transform="translate(-15.5 0) scale(0.00967 -0.00967)"/><text x="-4.49" y="0">0</text><text x="7.5" y="-9.8" font-size="13.3">2</text></g>
<g transform="translate(59.9 251.41) rotate(-90)"><path d="M515 0V1237L197 1010V1180L530 1409H696V0Z" transform="translate(-15.5 0) scale(0.00967 -0.00967)"/><text x="-4.49" y="0">0</text><text x="7.5" y="-9.8" font-size="13.3">3</text></g>
<g transform="translate(59.9 203.38) rotate(-90)"><path d="M515 0V1237L197 1010V1180L530 1409H696V0Z" transform="translate(-15.5 0) scale(0.00967 -0.00967)"/><text x="-4.49" y="0">0</text><text x="7.5" y="-9.8" font-size="13.3">4</text></g>
<g transform="translate(59.9 155.35) rotate(-90)"><path d="M515 0V1237L197 1010V1180L530 1409H696V0Z" transform="translate(-15.5 0) scale(0.00967 -0.00967)"/><text x="-4.49" y="0">0</text><text x="7.5" y="-9.8" font-size="13.3">5</text></g>
<g transform="translate(59.9 107.32) rotate(-90)"><path d="M515 0V1237L197 1010V1180L530 1409H696V0Z" transform="translate(-15.5 0) scale(0.00967 -0.00967)"/><text x="-4.49" y="0">0</text><text x="7.5" y="-9.8" font-size="13.3">6</text></g>
<g transform="translate(59.9 59.29) rotate(-90)"><path d="M515 0V1237L197 1010V1180L530 1409H696V0Z" transform="translate(-15.5 0) scale(0.00967 -0.00967)"/><text x="-4.49" y="0">0</text><text x="7.5" y="-9.8" font-size="13.3">7</text></g>
<text transform="translate(27.3 228.05) rotate(-90)" text-anchor="middle">P,T,C upto the year</text>
<text x="301.3" y="463.6" text-anchor="middle">Application year</text>
<rect x="340.6" y="312.5" width="189.6" height="96" fill="#fff" stroke="#000" stroke-width="1.25"/>
<path d="M352.54 336.5h12.72M358.9 330.14v12.72" fill="none" stroke="#f00" stroke-width="1.5" stroke-linecap="round"/>
<text x="378.1" y="344.4">P: patents</text>
<path d="M358.9 353.5l6.06 10.49h-12.12z" fill="none" stroke="#00f" stroke-width="1.5" stroke-linejoin="round"/>
<text x="378.1" y="368.4">C: combinations</text>
<path d="M354.4 384.5a4.5 4.5 0 1 0 9 0a4.5 4.5 0 1 0 -9 0" fill="none" stroke="#000" stroke-width="1.5"/>
<text x="378.1" y="392.4">T: codes</text>
<clipPath id="c2"><rect x="72.35" y="493.2" width="457.85" height="361.40000000000003"/></clipPath>
<g clip-path="url(#c2)">
<path d="M84.8 841.9a4.5 4.5 0 1 0 9 0a4.5 4.5 0 1 0 -9 0M113.77 819.03a4.5 4.5 0 1 0 9 0a4.5 4.5 0 1 0 -9 0M121.36 813.04a4.5 4.5 0 1 0 9 0a4.5 4.5 0 1 0 -9 0M127.31 808.34a4.5 4.5 0 1 0 9 0a4.5 4.5 0 1 0 -9 0M136.12 801.39a4.5 4.5 0 1 0 9 0a4.5 4.5 0 1 0 -9 0M147.96 792.04a4.5 4.5 0 1 0 9 0a4.5 4.5 0 1 0 -9 0M153.42 787.73a4.5 4.5 0 1 0 9 0a4.5 4.5 0 1 0 -9 0M157.98 784.13a4.5 4.5 0 1 0 9 0a4.5 4.5 0 1 0 -9 0M163.14 780.06a4.5 4.5 0 1 0 9 0a4.5 4.5 0 1 0 -9 0M168.61 775.74a4.5 4.5 0 1 0 9 0a4.5 4.5 0 1 0 -9 0M172.86 772.39a4.5 4.5 0 1 0 9 0a4.5 4.5 0 1 0 -9 0M176.08 769.85a4.5 4.5 0 1 0 9 0a4.5 4.5 0 1 0 -9 0M178.93 767.59a4.5 4.5 0 1 0 9 0a4.5 4.5 0 1 0 -9 0M181.66 765.44a4.5 4.5 0 1 0 9 0a4.5 4.5 0 1 0 -9 0M184.4 763.28a4.5 4.5 0 1 0 9 0a4.5 4.5 0 1 0 -9 0M186.97 761.25a4.5 4.5 0 1 0 9 0a4.5 4.5 0 1 0 -9 0M190.47 758.48a4.5 4.5 0 1 0 9 0a4.5 4.5 0 1 0 -9 0M198.97 751.77a4.5 4.5 0 1 0 9 0a4.5 4.5 0 1 0 -9 0M205.05 746.98a4.5 4.5 0 1 0 9 0a4.5 4.5 0 1 0 -9 0M209.64 743.49a4.5 4.5 0 1 0 9 0a4.5 4.5 0 1 0 -9 0M213.29 740.75a4.5 4.5 0 1 0 9 0a4.5 4.5 0 1 0 -9 0M216.1 738.67a4.5 4.5 0 1 0 9 0a4.5 4.5 0 1 0 -9 0M218.49 736.91a4.5 4.5 0 1 0 9 0a4.5 4.5 0 1 0 -9 0M220.75 735.27a4.5 4.5 0 1 0 9 0a4.5 4.5 0 1 0 -9 0M222.85 733.75a4.5 4.5 0 1 0 9 0a4.5 4.5 0 1 0 -9 0M224.83 732.32a4.5 4.5 0 1 0 9 0a4.5 4.5 0 1 0 -9 0M226.56 731.02a4.5 4.5 0 1 0 9 0a4.5 4.5 0 1 0 -9 0M228.3 729.72a4.5 4.5 0 1 0 9 0a4.5 4.5 0 1 0 -9 0M230.05 728.4a4.5 4.5 0 1 0 9 0a4.5 4.5 0 1 0 -9 0M232.03 726.91a4.5 4.5 0 1 0 9 0a4.5 4.5 0 1 0 -9 0M235.08 724.57a4.5 4.5 0 1 0 9 0a4.5 4.5 0 1 0 -9 0M238.79 721.71a4.5 4.5 0 1 0 9 0a4.5 4.5 0 1 0 -9 0M241.59 719.57a4.5 4.5 0 1 0 9 0a4.5 4.5 0 1 0 -9 0M244.59 717.68a4.5 4.5 0 1 0 9 0a4.5 4.5 0 1 0 -9 0M247.43 715.92a4.5 4.5 0 1 0 9 0a4.5 4.5 0 1 0 -9 0M250.27 714.15a4.5 4.5 0 1 0 9 0a4.5 4.5 0 1 0 -9 0M253.28 712.26a4.5 4.5 0 1 0 9 0a4.5 4.5 0 1 0 -9 0M256.53 710.18a4.5 4.5 0 1 0 9 0a4.5 4.5 0 1 0 -9 0M259.89 708a4.5 4.5 0 1 0 9 0a4.5 4.5 0 1 0 -9 0M263.4 705.7a4.5 4.5 0 1 0 9 0a4.5 4.5 0 1 0 -9 0M266.54 703.23a4.5 4.5 0 1 0 9 0a4.5 4.5 0 1 0 -9 0M269.96 700.53a4.5 4.5 0 1 0 9 0a4.5 4.5 0 1 0 -9 0M273.67 697.6a4.5 4.5 0 1 0 9 0a4.5 4.5 0 1 0 -9 0M277.65 694.46a4.5 4.5 0 1 0 9 0a4.5 4.5 0 1 0 -9 0M281.88 691.12a4.5 4.5 0 1 0 9 0a4.5 4.5 0 1 0 -9 0M286.57 687.41a4.5 4.5 0 1 0 9 0a4.5 4.5 0 1 0 -9 0M291.2 683.44a4.5 4.5 0 1 0 9 0a4.5 4.5 0 1 0 -9 0M295.75 679.53a4.5 4.5 0 1 0 9 0a4.5 4.5 0 1 0 -9 0M300.11 675.77a4.5 4.5 0 1 0 9 0a4.5 4.5 0 1 0 -9 0M304.48 672a4.5 4.5 0 1 0 9 0a4.5 4.5 0 1 0 -9 0M309.29 667.88a4.5 4.5 0 1 0 9 0a4.5 4.5 0 1 0 -9 0M314.02 663.83a4.5 4.5 0 1 0 9 0a4.5 4.5 0 1 0 -9 0M317.59 661.14a4.5 4.5 0 1 0 9 0a4.5 4.5 0 1 0 -9 0M320.32 659.1a4.5 4.5 0 1 0 9 0a4.5 4.5 0 1 0 -9 0M322.66 657.37a4.5 4.5 0 1 0 9 0a4.5 4.5 0 1 0 -9 0M324.87 655.75a4.5 4.5 0 1 0 9 0a4.5 4.5 0 1 0 -9 0M327.06 654.11a4.5 4.5 0 1 0 9 0a4.5 4.5 0 1 0 -9 0M329.12 652.58a4.5 4.5 0 1 0 9 0a4.5 4.5 0 1 0 -9 0M331.1 651.12a4.5 4.5 0 1 0 9 0a4.5 4.5 0 1 0 -9 0M333.06 649.66a4.5 4.5 0 1 0 9 0a4.5 4.5 0 1 0 -9 0M335.01 648.22a4.5 4.5 0 1 0 9 0a4.5 4.5 0 1 0 -9 0M337.48 646.95a4.5 4.5 0 1 0 9 0a4.5 4.5 0 1 0 -9 0M339.84 645.78a4.5 4.5 0 1 0 9 0a4.5 4.5 0 1 0 -9 0M341.43 644.62a4.5 4.5 0 1 0 9 0a4.5 4.5 0 1 0 -9 0M344.54 643.4a4.5 4.5 0 1 0 9 0a4.5 4.5 0 1 0 -9 0M347.35 642.04a4.5 4.5 0 1 0 9 0a4.5 4.5 0 1 0 -9 0M349.89 640.45a4.5 4.5 0 1 0 9 0a4.5 4.5 0 1 0 -9 0M352.46 638.78a4.5 4.5 0 1 0 9 0a4.5 4.5 0 1 0 -9 0M355.02 637.2a4.5 4.5 0 1 0 9 0a4.5 4.5 0 1 0 -9 0M357.62 635.75a4.5 4.5 0 1 0 9 0a4.5 4.5 0 1 0 -9 0M360.31 634.36a4.5 4.5 0 1 0 9 0a4.5 4.5 0 1 0 -9 0M363.16 633.01a4.5 4.5 0 1 0 9 0a4.5 4.5 0 1 0 -9 0M366.2 631.65a4.5 4.5 0 1 0 9 0a4.5 4.5 0 1 0 -9 0M369.38 630.25a4.5 4.5 0 1 0 9 0a4.5 4.5 0 1 0 -9 0M372.63 628.78a4.5 4.5 0 1 0 9 0a4.5 4.5 0 1 0 -9 0M375.87 627.3a4.5 4.5 0 1 0 9 0a4.5 4.5 0 1 0 -9 0M379.03 625.89a4.5 4.5 0 1 0 9 0a4.5 4.5 0 1 0 -9 0M382.03 624.62a4.5 4.5 0 1 0 9 0a4.5 4.5 0 1 0 -9 0M384.81 623.54a4.5 4.5 0 1 0 9 0a4.5 4.5 0 1 0 -9 0M387.38 622.56a4.5 4.5 0 1 0 9 0a4.5 4.5 0 1 0 -9 0M389.85 621.65a4.5 4.5 0 1 0 9 0a4.5 4.5 0 1 0 -9 0M392.22 620.78a4.5 4.5 0 1 0 9 0a4.5 4.5 0 1 0 -9 0M394.51 619.92a4.5 4.5 0 1 0 9 0a4.5 4.5 0 1 0 -9 0M396.73 619.06a4.5 4.5 0 1 0 9 0a4.5 4.5 0 1 0 -9 0M398.91 618.23a4.5 4.5 0 1 0 9 0a4.5 4.5 0 1 0 -9 0M401.05 617.47a4.5 4.5 0 1 0 9 0a4.5 4.5 0 1 0 -9 0M403.15 616.8a4.5 4.5 0 1 0 9 0a4.5 4.5 0 1 0 -9 0M405.11 616.14a4.5 4.5 0 1 0 9 0a4.5 4.5 0 1 0 -9 0M407.04 615.44a4.5 4.5 0 1 0 9 0a4.5 4.5 0 1 0 -9 0M409.06 614.73a4.5 4.5 0 1 0 9 0a4.5 4.5 0 1 0 -9 0M411.33 614a4.5 4.5 0 1 0 9 0a4.5 4.5 0 1 0 -9 0M413.9 613.27a4.5 4.5 0 1 0 9 0a4.5 4.5 0 1 0 -9 0M416.57 612.55a4.5 4.5 0 1 0 9 0a4.5 4.5 0 1 0 -9 0M419.15 611.85a4.5 4.5 0 1 0 9 0a4.5 4.5 0 1 0 -9 0M421.47 611.16a4.5 4.5 0 1 0 9 0a4.5 4.5 0 1 0 -9 0M423.36 610.5a4.5 4.5 0 1 0 9 0a4.5 4.5 0 1 0 -9 0M425.03 609.87a4.5 4.5 0 1 0 9 0a4.5 4.5 0 1 0 -9 0M426.55 609.27a4.5 4.5 0 1 0 9 0a4.5 4.5 0 1 0 -9 0M427.96 608.69a4.5 4.5 0 1 0 9 0a4.5 4.5 0 1 0 -9 0M429.3 608.11a4.5 4.5 0 1 0 9 0a4.5 4.5 0 1 0 -9 0M430.61 607.56a4.5 4.5 0 1 0 9 0a4.5 4.5 0 1 0 -9 0M431.88 607.02a4.5 4.5 0 1 0 9 0a4.5 4.5 0 1 0 -9 0M433.08 606.51a4.5 4.5 0 1 0 9 0a4.5 4.5 0 1 0 -9 0M434.24 606.03a4.5 4.5 0 1 0 9 0a4.5 4.5 0 1 0 -9 0M435.35 605.57a4.5 4.5 0 1 0 9 0a4.5 4.5 0 1 0 -9 0M436.43 605.13a4.5 4.5 0 1 0 9 0a4.5 4.5 0 1 0 -9 0M437.46 604.7a4.5 4.5 0 1 0 9 0a4.5 4.5 0 1 0 -9 0M438.44 604.27a4.5 4.5 0 1 0 9 0a4.5 4.5 0 1 0 -9 0M439.39 603.83a4.5 4.5 0 1 0 9 0a4.5 4.5 0 1 0 -9 0M440.34 603.4a4.5 4.5 0 1 0 9 0a4.5 4.5 0 1 0 -9 0M441.3 603.02a4.5 4.5 0 1 0 9 0a4.5 4.5 0 1 0 -9 0M442.28 602.71a4.5 4.5 0 1 0 9 0a4.5 4.5 0 1 0 -9 0M443.27 602.42a4.5 4.5 0 1 0 9 0a4.5 4.5 0 1 0 -9 0M444.26 602.16a4.5 4.5 0 1 0 9 0a4.5 4.5 0 1 0 -9 0M445.25 601.92a4.5 4.5 0 1 0 9 0a4.5 4.5 0 1 0 -9 0M446.25 601.69a4.5 4.5 0 1 0 9 0a4.5 4.5 0 1 0 -9 0M447.25 601.47a4.5 4.5 0 1 0 9 0a4.5 4.5 0 1 0 -9 0M448.27 601.27a4.5 4.5 0 1 0 9 0a4.5 4.5 0 1 0 -9 0M449.28 601.07a4.5 4.5 0 1 0 9 0a4.5 4.5 0 1 0 -9 0M450.31 600.88a4.5 4.5 0 1 0 9 0a4.5 4.5 0 1 0 -9 0M451.33 600.69a4.5 4.5 0 1 0 9 0a4.5 4.5 0 1 0 -9 0M452.34 600.51a4.5 4.5 0 1 0 9 0a4.5 4.5 0 1 0 -9 0M453.35 600.33a4.5 4.5 0 1 0 9 0a4.5 4.5 0 1 0 -9 0M454.34 600.16a4.5 4.5 0 1 0 9 0a4.5 4.5 0 1 0 -9 0M455.33 599.99a4.5 4.5 0 1 0 9 0a4.5 4.5 0 1 0 -9 0M456.33 599.83a4.5 4.5 0 1 0 9 0a4.5 4.5 0 1 0 -9 0M457.33 599.67a4.5 4.5 0 1 0 9 0a4.5 4.5 0 1 0 -9 0M458.31 599.52a4.5 4.5 0 1 0 9 0a4.5 4.5 0 1 0 -9 0M459.28 599.38a4.5 4.5 0 1 0 9 0a4.5 4.5 0 1 0 -9 0M460.21 599.24a4.5 4.5 0 1 0 9 0a4.5 4.5 0 1 0 -9 0M461.11 599.11a4.5 4.5 0 1 0 9 0a4.5 4.5 0 1 0 -9 0M461.97 598.99a4.5 4.5 0 1 0 9 0a4.5 4.5 0 1 0 -9 0M462.8 598.87a4.5 4.5 0 1 0 9 0a4.5 4.5 0 1 0 -9 0M463.61 598.76a4.5 4.5 0 1 0 9 0a4.5 4.5 0 1 0 -9 0M464.4 598.66a4.5 4.5 0 1 0 9 0a4.5 4.5 0 1 0 -9 0M465.16 598.57a4.5 4.5 0 1 0 9 0a4.5 4.5 0 1 0 -9 0M465.9 598.48a4.5 4.5 0 1 0 9 0a4.5 4.5 0 1 0 -9 0M466.6 598.39a4.5 4.5 0 1 0 9 0a4.5 4.5 0 1 0 -9 0M467.27 598.3a4.5 4.5 0 1 0 9 0a4.5 4.5 0 1 0 -9 0M467.9 598.22a4.5 4.5 0 1 0 9 0a4.5 4.5 0 1 0 -9 0M468.51 598.13a4.5 4.5 0 1 0 9 0a4.5 4.5 0 1 0 -9 0M469.09 598.04a4.5 4.5 0 1 0 9 0a4.5 4.5 0 1 0 -9 0M469.64 597.95a4.5 4.5 0 1 0 9 0a4.5 4.5 0 1 0 -9 0M470.18 597.86a4.5 4.5 0 1 0 9 0a4.5 4.5 0 1 0 -9 0M470.71 597.76a4.5 4.5 0 1 0 9 0a4.5 4.5 0 1 0 -9 0M471.23 597.66a4.5 4.5 0 1 0 9 0a4.5 4.5 0 1 0 -9 0M471.75 597.55a4.5 4.5 0 1 0 9 0a4.5 4.5 0 1 0 -9 0M472.28 597.44a4.5 4.5 0 1 0 9 0a4.5 4.5 0 1 0 -9 0M472.8 597.33a4.5 4.5 0 1 0 9 0a4.5 4.5 0 1 0 -9 0M473.31 597.22a4.5 4.5 0 1 0 9 0a4.5 4.5 0 1 0 -9 0M473.82 597.11a4.5 4.5 0 1 0 9 0a4.5 4.5 0 1 0 -9 0M474.3 597a4.5 4.5 0 1 0 9 0a4.5 4.5 0 1 0 -9 0M474.75 596.89a4.5 4.5 0 1 0 9 0a4.5 4.5 0 1 0 -9 0M475.17 596.78a4.5 4.5 0 1 0 9 0a4.5 4.5 0 1 0 -9 0M475.56 596.67a4.5 4.5 0 1 0 9 0a4.5 4.5 0 1 0 -9 0M475.92 596.56a4.5 4.5 0 1 0 9 0a4.5 4.5 0 1 0 -9 0M476.25 596.45a4.5 4.5 0 1 0 9 0a4.5 4.5 0 1 0 -9 0M476.57 596.34a4.5 4.5 0 1 0 9 0a4.5 4.5 0 1 0 -9 0M476.88 596.23a4.5 4.5 0 1 0 9 0a4.5 4.5 0 1 0 -9 0M477.18 596.12a4.5 4.5 0 1 0 9 0a4.5 4.5 0 1 0 -9 0M477.48 596.01a4.5 4.5 0 1 0 9 0a4.5 4.5 0 1 0 -9 0M477.79 595.91a4.5 4.5 0 1 0 9 0a4.5 4.5 0 1 0 -9 0M478.1 595.8a4.5 4.5 0 1 0 9 0a4.5 4.5 0 1 0 -9 0M478.43 595.7a4.5 4.5 0 1 0 9 0a4.5 4.5 0 1 0 -9 0M478.76 595.59a4.5 4.5 0 1 0 9 0a4.5 4.5 0 1 0 -9 0M479.1 595.48a4.5 4.5 0 1 0 9 0a4.5 4.5 0 1 0 -9 0M479.44 595.37a4.5 4.5 0 1 0 9 0a4.5 4.5 0 1 0 -9 0M479.77 595.26a4.5 4.5 0 1 0 9 0a4.5 4.5 0 1 0 -9 0M480.11 595.14a4.5 4.5 0 1 0 9 0a4.5 4.5 0 1 0 -9 0M480.46 595.03a4.5 4.5 0 1 0 9 0a4.5 4.5 0 1 0 -9 0M480.8 594.91a4.5 4.5 0 1 0 9 0a4.5 4.5 0 1 0 -9 0M481.15 594.8a4.5 4.5 0 1 0 9 0a4.5 4.5 0 1 0 -9 0M481.5 594.68a4.5 4.5 0 1 0 9 0a4.5 4.5 0 1 0 -9 0M481.85 594.56a4.5 4.5 0 1 0 9 0a4.5 4.5 0 1 0 -9 0M482.2 594.45a4.5 4.5 0 1 0 9 0a4.5 4.5 0 1 0 -9 0M482.56 594.34a4.5 4.5 0 1 0 9 0a4.5 4.5 0 1 0 -9 0M482.92 594.22a4.5 4.5 0 1 0 9 0a4.5 4.5 0 1 0 -9 0M483.28 594.11a4.5 4.5 0 1 0 9 0a4.5 4.5 0 1 0 -9 0M483.65 594.01a4.5 4.5 0 1 0 9 0a4.5 4.5 0 1 0 -9 0M484.02 593.9a4.5 4.5 0 1 0 9 0a4.5 4.5 0 1 0 -9 0M484.39 593.8a4.5 4.5 0 1 0 9 0a4.5 4.5 0 1 0 -9 0M484.77 593.7a4.5 4.5 0 1 0 9 0a4.5 4.5 0 1 0 -9 0M485.16 593.61a4.5 4.5 0 1 0 9 0a4.5 4.5 0 1 0 -9 0M485.56 593.52a4.5 4.5 0 1 0 9 0a4.5 4.5 0 1 0 -9 0M485.96 593.43a4.5 4.5 0 1 0 9 0a4.5 4.5 0 1 0 -9 0M486.38 593.35a4.5 4.5 0 1 0 9 0a4.5 4.5 0 1 0 -9 0M486.82 593.28a4.5 4.5 0 1 0 9 0a4.5 4.5 0 1 0 -9 0M487.26 593.21a4.5 4.5 0 1 0 9 0a4.5 4.5 0 1 0 -9 0M487.72 593.15a4.5 4.5 0 1 0 9 0a4.5 4.5 0 1 0 -9 0M488.18 593.09a4.5 4.5 0 1 0 9 0a4.5 4.5 0 1 0 -9 0M488.66 593.04a4.5 4.5 0 1 0 9 0a4.5 4.5 0 1 0 -9 0M489.13 592.99a4.5 4.5 0 1 0 9 0a4.5 4.5 0 1 0 -9 0M489.61 592.93a4.5 4.5 0 1 0 9 0a4.5 4.5 0 1 0 -9 0M490.09 592.88a4.5 4.5 0 1 0 9 0a4.5 4.5 0 1 0 -9 0M490.58 592.83a4.5 4.5 0 1 0 9 0a4.5 4.5 0 1 0 -9 0M491.08 592.78a4.5 4.5 0 1 0 9 0a4.5 4.5 0 1 0 -9 0M491.59 592.73a4.5 4.5 0 1 0 9 0a4.5 4.5 0 1 0 -9 0M492.11 592.68a4.5 4.5 0 1 0 9 0a4.5 4.5 0 1 0 -9 0M492.64 592.63a4.5 4.5 0 1 0 9 0a4.5 4.5 0 1 0 -9 0M493.19 592.58a4.5 4.5 0 1 0 9 0a4.5 4.5 0 1 0 -9 0M493.76 592.53a4.5 4.5 0 1 0 9 0a4.5 4.5 0 1 0 -9 0M494.35 592.49a4.5 4.5 0 1 0 9 0a4.5 4.5 0 1 0 -9 0M494.96 592.45a4.5 4.5 0 1 0 9 0a4.5 4.5 0 1 0 -9 0M495.6 592.41a4.5 4.5 0 1 0 9 0a4.5 4.5 0 1 0 -9 0M496.3 592.37a4.5 4.5 0 1 0 9 0a4.5 4.5 0 1 0 -9 0M497.05 592.33a4.5 4.5 0 1 0 9 0a4.5 4.5 0 1 0 -9 0M497.83 592.3a4.5 4.5 0 1 0 9 0a4.5 4.5 0 1 0 -9 0M498.62 592.27a4.5 4.5 0 1 0 9 0a4.5 4.5 0 1 0 -9 0M499.41 592.24a4.5 4.5 0 1 0 9 0a4.5 4.5 0 1 0 -9 0M500.19 592.22a4.5 4.5 0 1 0 9 0a4.5 4.5 0 1 0 -9 0M500.97 592.19a4.5 4.5 0 1 0 9 0a4.5 4.5 0 1 0 -9 0M501.78 592.17a4.5 4.5 0 1 0 9 0a4.5 4.5 0 1 0 -9 0M502.58 592.16a4.5 4.5 0 1 0 9 0a4.5 4.5 0 1 0 -9 0M503.39 592.15a4.5 4.5 0 1 0 9 0a4.5 4.5 0 1 0 -9 0M504.17 592.14a4.5 4.5 0 1 0 9 0a4.5 4.5 0 1 0 -9 0M504.92 592.13a4.5 4.5 0 1 0 9 0a4.5 4.5 0 1 0 -9 0M505.65 592.13a4.5 4.5 0 1 0 9 0a4.5 4.5 0 1 0 -9 0M506.48 592.14a4.5 4.5 0 1 0 9 0a4.5 4.5 0 1 0 -9 0M507.27 592.16a4.5 4.5 0 1 0 9 0a4.5 4.5 0 1 0 -9 0M507.82 592.18a4.5 4.5 0 1 0 9 0a4.5 4.5 0 1 0 -9 0M508 592.21a4.5 4.5 0 1 0 9 0a4.5 4.5 0 1 0 -9 0M508.06 592.24a4.5 4.5 0 1 0 9 0a4.5 4.5 0 1 0 -9 0M508.09 592.28a4.5 4.5 0 1 0 9 0a4.5 4.5 0 1 0 -9 0" fill="none" stroke="#000" stroke-width="1.5"/>
<path d="M174.15 855.6V493.2" stroke="#bebebe" stroke-width="2.1" stroke-dasharray="9.5 10.58" fill="none"/>
<path d="M445.5 855.6V493.2" stroke="#bebebe" stroke-width="2.1" stroke-dasharray="9.5 10.58" fill="none"/>
<path d="M505.9 855.6V493.2" stroke="#bebebe" stroke-width="2.1" stroke-dasharray="9.5 10.58" fill="none"/>
<path d="M89.3 834.9l6.06 10.49h-12.12zM118.27 812.04l6.06 10.49h-12.12zM125.86 806.04l6.06 10.49h-12.12zM131.81 801.35l6.06 10.49h-12.12zM140.62 794.39l6.06 10.49h-12.12zM152.46 785.05l6.06 10.49h-12.12zM157.92 780.73l6.06 10.49h-12.12zM162.48 777.14l6.06 10.49h-12.12zM167.64 773.06l6.06 10.49h-12.12zM173.11 768.75l6.06 10.49h-12.12zM177.36 765.39l6.06 10.49h-12.12zM180.58 762.85l6.06 10.49h-12.12zM183.43 760.6l6.06 10.49h-12.12zM186.16 758.44l6.06 10.49h-12.12zM188.9 756.28l6.06 10.49h-12.12zM191.47 754.25l6.06 10.49h-12.12zM194.97 751.49l6.06 10.49h-12.12zM203.47 744.78l6.06 10.49h-12.12zM209.55 739.98l6.06 10.49h-12.12zM214.14 736.49l6.06 10.49h-12.12zM217.79 733.75l6.06 10.49h-12.12zM220.6 731.81l6.06 10.49h-12.12zM222.99 730.2l6.06 10.49h-12.12zM225.25 728.7l6.06 10.49h-12.12zM227.35 727.33l6.06 10.49h-12.12zM229.33 726.04l6.06 10.49h-12.12zM231.06 724.89l6.06 10.49h-12.12zM232.8 723.73l6.06 10.49h-12.12zM234.55 722.56l6.06 10.49h-12.12zM236.53 721.21l6.06 10.49h-12.12zM239.58 719.01l6.06 10.49h-12.12zM243.29 716.26l6.06 10.49h-12.12zM246.09 714.23l6.06 10.49h-12.12zM249.09 712.44l6.06 10.49h-12.12zM251.93 710.79l6.06 10.49h-12.12zM254.77 709.13l6.06 10.49h-12.12zM257.78 707.34l6.06 10.49h-12.12zM261.03 705.36l6.06 10.49h-12.12zM264.39 703.3l6.06 10.49h-12.12zM267.9 701.11l6.06 10.49h-12.12zM271.04 698.71l6.06 10.49h-12.12zM274.46 696.09l6.06 10.49h-12.12zM278.17 693.24l6.06 10.49h-12.12zM282.15 690.18l6.06 10.49h-12.12zM286.38 686.92l6.06 10.49h-12.12zM291.07 683.29l6.06 10.49h-12.12zM295.7 679.4l6.06 10.49h-12.12zM300.25 675.57l6.06 10.49h-12.12zM304.61 671.89l6.06 10.49h-12.12zM308.98 668.2l6.06 10.49h-12.12zM313.79 664.16l6.06 10.49h-12.12zM318.52 660.19l6.06 10.49h-12.12zM322.09 657.56l6.06 10.49h-12.12zM324.82 655.58l6.06 10.49h-12.12zM327.16 653.91l6.06 10.49h-12.12zM329.37 652.35l6.06 10.49h-12.12zM331.56 650.77l6.06 10.49h-12.12zM333.62 649.3l6.06 10.49h-12.12zM335.6 647.9l6.06 10.49h-12.12zM337.56 646.5l6.06 10.49h-12.12zM339.51 644.79l6.06 10.49h-12.12zM341.98 643.07l6.06 10.49h-12.12zM344.34 641.34l6.06 10.49h-12.12zM345.93 639.61l6.06 10.49h-12.12zM349.04 637.87l6.06 10.49h-12.12zM351.85 636.13l6.06 10.49h-12.12zM354.39 634.37l6.06 10.49h-12.12zM356.96 632.6l6.06 10.49h-12.12zM359.52 630.83l6.06 10.49h-12.12zM362.12 629.05l6.06 10.49h-12.12zM364.81 627.17l6.06 10.49h-12.12zM367.66 625.1l6.06 10.49h-12.12zM370.7 622.83l6.06 10.49h-12.12zM373.88 620.43l6.06 10.49h-12.12zM377.13 617.94l6.06 10.49h-12.12zM380.37 615.42l6.06 10.49h-12.12zM383.53 612.93l6.06 10.49h-12.12zM386.53 610.53l6.06 10.49h-12.12zM389.31 608.14l6.06 10.49h-12.12zM391.88 605.65l6.06 10.49h-12.12zM394.35 603.25l6.06 10.49h-12.12zM396.72 601.16l6.06 10.49h-12.12zM399.01 599.58l6.06 10.49h-12.12zM401.23 598.34l6.06 10.49h-12.12zM403.41 597.29l6.06 10.49h-12.12zM405.55 596.93l6.06 10.49h-12.12zM407.65 596.31l6.06 10.49h-12.12zM409.61 595.44l6.06 10.49h-12.12zM411.54 594.29l6.06 10.49h-12.12zM413.56 592.84l6.06 10.49h-12.12zM415.83 591.25l6.06 10.49h-12.12zM418.4 589.43l6.06 10.49h-12.12zM421.07 587.52l6.06 10.49h-12.12zM423.65 585.66l6.06 10.49h-12.12zM425.97 584.01l6.06 10.49h-12.12zM427.86 582.68l6.06 10.49h-12.12zM429.53 581.52l6.06 10.49h-12.12zM431.05 580.47l6.06 10.49h-12.12zM432.46 579.51l6.06 10.49h-12.12zM433.8 578.61l6.06 10.49h-12.12zM435.11 577.73l6.06 10.49h-12.12zM436.38 576.86l6.06 10.49h-12.12zM437.58 576l6.06 10.49h-12.12zM438.74 575.12l6.06 10.49h-12.12zM439.85 574.24l6.06 10.49h-12.12zM440.93 573.37l6.06 10.49h-12.12zM441.96 572.53l6.06 10.49h-12.12zM442.94 571.72l6.06 10.49h-12.12zM443.89 570.92l6.06 10.49h-12.12zM444.84 570.12l6.06 10.49h-12.12zM445.8 569.31l6.06 10.49h-12.12zM446.78 568.41l6.06 10.49h-12.12zM447.77 567.41l6.06 10.49h-12.12zM448.76 566.35l6.06 10.49h-12.12zM449.75 565.29l6.06 10.49h-12.12zM450.75 564.28l6.06 10.49h-12.12zM451.75 563.34l6.06 10.49h-12.12zM452.77 562.42l6.06 10.49h-12.12zM453.78 561.51l6.06 10.49h-12.12zM454.81 560.61l6.06 10.49h-12.12zM455.83 559.72l6.06 10.49h-12.12zM456.84 558.84l6.06 10.49h-12.12zM457.85 557.96l6.06 10.49h-12.12zM458.84 557.09l6.06 10.49h-12.12zM459.83 556.22l6.06 10.49h-12.12zM460.83 555.35l6.06 10.49h-12.12zM461.83 554.48l6.06 10.49h-12.12zM462.81 553.62l6.06 10.49h-12.12zM463.78 552.77l6.06 10.49h-12.12zM464.71 551.96l6.06 10.49h-12.12zM465.61 551.17l6.06 10.49h-12.12zM466.47 550.42l6.06 10.49h-12.12zM467.3 549.68l6.06 10.49h-12.12zM468.11 548.96l6.06 10.49h-12.12zM468.9 548.26l6.06 10.49h-12.12zM469.66 547.58l6.06 10.49h-12.12zM470.4 546.93l6.06 10.49h-12.12zM471.1 546.32l6.06 10.49h-12.12zM471.77 545.74l6.06 10.49h-12.12zM472.4 545.21l6.06 10.49h-12.12zM473.01 544.69l6.06 10.49h-12.12zM473.59 544.2l6.06 10.49h-12.12zM474.14 543.73l6.06 10.49h-12.12zM474.68 543.28l6.06 10.49h-12.12zM475.21 542.84l6.06 10.49h-12.12zM475.73 542.42l6.06 10.49h-12.12zM476.25 542l6.06 10.49h-12.12zM476.78 541.61l6.06 10.49h-12.12zM477.3 541.23l6.06 10.49h-12.12zM477.81 540.87l6.06 10.49h-12.12zM478.32 540.53l6.06 10.49h-12.12zM478.8 540.2l6.06 10.49h-12.12zM479.25 539.89l6.06 10.49h-12.12zM479.67 539.59l6.06 10.49h-12.12zM480.06 539.3l6.06 10.49h-12.12zM480.42 539.03l6.06 10.49h-12.12zM480.75 538.78l6.06 10.49h-12.12zM481.07 538.54l6.06 10.49h-12.12zM481.38 538.31l6.06 10.49h-12.12zM481.68 538.09l6.06 10.49h-12.12zM481.98 537.86l6.06 10.49h-12.12zM482.29 537.62l6.06 10.49h-12.12zM482.6 537.38l6.06 10.49h-12.12zM482.93 537.12l6.06 10.49h-12.12zM483.26 536.84l6.06 10.49h-12.12zM483.6 536.56l6.06 10.49h-12.12zM483.94 536.26l6.06 10.49h-12.12zM484.27 535.95l6.06 10.49h-12.12zM484.61 535.63l6.06 10.49h-12.12zM484.96 535.3l6.06 10.49h-12.12zM485.3 534.96l6.06 10.49h-12.12zM485.65 534.62l6.06 10.49h-12.12zM486 534.27l6.06 10.49h-12.12zM486.35 533.92l6.06 10.49h-12.12zM486.7 533.56l6.06 10.49h-12.12zM487.06 533.21l6.06 10.49h-12.12zM487.42 532.85l6.06 10.49h-12.12zM487.78 532.48l6.06 10.49h-12.12zM488.15 532.09l6.06 10.49h-12.12zM488.52 531.7l6.06 10.49h-12.12zM488.89 531.29l6.06 10.49h-12.12zM489.27 530.88l6.06 10.49h-12.12zM489.66 530.45l6.06 10.49h-12.12zM490.06 530.03l6.06 10.49h-12.12zM490.46 529.59l6.06 10.49h-12.12zM490.88 529.15l6.06 10.49h-12.12zM491.32 528.69l6.06 10.49h-12.12zM491.76 528.22l6.06 10.49h-12.12zM492.22 527.75l6.06 10.49h-12.12zM492.68 527.27l6.06 10.49h-12.12zM493.16 526.79l6.06 10.49h-12.12zM493.63 526.3l6.06 10.49h-12.12zM494.11 525.81l6.06 10.49h-12.12zM494.59 525.31l6.06 10.49h-12.12zM495.08 524.8l6.06 10.49h-12.12zM495.58 524.29l6.06 10.49h-12.12zM496.09 523.78l6.06 10.49h-12.12zM496.61 523.26l6.06 10.49h-12.12zM497.14 522.75l6.06 10.49h-12.12zM497.69 522.24l6.06 10.49h-12.12zM498.26 521.73l6.06 10.49h-12.12zM498.85 521.22l6.06 10.49h-12.12zM499.46 520.71l6.06 10.49h-12.12zM500.1 520.2l6.06 10.49h-12.12zM500.8 519.65l6.06 10.49h-12.12zM501.55 519.06l6.06 10.49h-12.12zM502.33 518.45l6.06 10.49h-12.12zM503.12 517.82l6.06 10.49h-12.12zM503.91 517.2l6.06 10.49h-12.12zM504.69 516.58l6.06 10.49h-12.12zM505.47 515.98l6.06 10.49h-12.12zM506.28 515.39l6.06 10.49h-12.12zM507.08 514.8l6.06 10.49h-12.12zM507.89 514.22l6.06 10.49h-12.12zM508.67 513.65l6.06 10.49h-12.12zM509.42 513.08l6.06 10.49h-12.12zM510.15 512.51l6.06 10.49h-12.12zM510.98 511.8l6.06 10.49h-12.12zM511.77 511.08l6.06 10.49h-12.12zM512.32 510.53l6.06 10.49h-12.12zM512.5 510.27l6.06 10.49h-12.12zM512.56 510.07l6.06 10.49h-12.12zM512.59 509.87l6.06 10.49h-12.12z" fill="none" stroke="#00f" stroke-width="1.5" stroke-linejoin="round"/>
<path d="M89.3 851.7L512.6 518.9" stroke="#f00" stroke-width="3.9" stroke-linecap="round" fill="none"/>
<g fill="#bebebe" stroke="#bebebe"><text x="147.8" y="687.9">year 1800</text><text x="402.9" y="687.9">year 1900</text><text x="448.4" y="702.8">year 2000</text></g>
</g>
<rect x="72.35" y="493.2" width="457.85" height="361.40000000000003" fill="none" stroke="#000" stroke-width="1.25"/>
<path d="M72.35 852.54h11.4M72.35 846.55h11.4M72.35 841.9h11.4M72.35 841.9h18.5M72.35 827.47h11.4M72.35 813.04h11.4M72.35 804.6h11.4M72.35 798.61h11.4M72.35 793.96h11.4M72.35 793.96h18.5M72.35 779.53h11.4M72.35 765.1h11.4M72.35 756.66h11.4M72.35 750.67h11.4M72.35 746.02h11.4M72.35 746.02h18.5M72.35 731.59h11.4M72.35 717.16h11.4M72.35 708.72h11.4M72.35 702.73h11.4M72.35 698.08h11.4M72.35 698.08h18.5M72.35 683.65h11.4M72.35 669.22h11.4M72.35 660.78h11.4M72.35 654.79h11.4M72.35 650.14h11.4M72.35 650.14h18.5M72.35 635.71h11.4M72.35 621.28h11.4M72.35 612.84h11.4M72.35 606.85h11.4M72.35 602.2h11.4M72.35 602.2h18.5M72.35 587.77h11.4M72.35 573.34h11.4M72.35 564.9h11.4M72.35 558.91h11.4M72.35 554.26h11.4M72.35 554.26h18.5M72.35 539.83h11.4M72.35 525.4h11.4M72.35 516.96h11.4M72.35 510.97h11.4M72.35 506.32h11.4M72.35 506.32h18.5" stroke="#000" stroke-width="1.25" fill="none"/>
<path d="M75.83 854.6v-11.4M83.41 854.6v-11.4M89.3 854.6v-11.4M89.3 854.6v-18.5M107.58 854.6v-11.4M125.86 854.6v-11.4M136.56 854.6v-11.4M144.14 854.6v-11.4M150.03 854.6v-11.4M150.03 854.6v-18.5M168.31 854.6v-11.4M186.59 854.6v-11.4M197.29 854.6v-11.4M204.87 854.6v-11.4M210.76 854.6v-11.4M210.76 854.6v-18.5M229.04 854.6v-11.4M247.32 854.6v-11.4M258.02 854.6v-11.4M265.6 854.6v-11.4M271.49 854.6v-11.4M271.49 854.6v-18.5M289.77 854.6v-11.4M308.05 854.6v-11.4M318.75 854.6v-11.4M326.33 854.6v-11.4M332.22 854.6v-11.4M332.22 854.6v-18.5M350.5 854.6v-11.4M368.78 854.6v-11.4M379.48 854.6v-11.4M387.06 854.6v-11.4M392.95 854.6v-11.4M392.95 854.6v-18.5M411.23 854.6v-11.4M429.51 854.6v-11.4M440.21 854.6v-11.4M447.79 854.6v-11.4M453.68 854.6v-11.4M453.68 854.6v-18.5M471.96 854.6v-11.4M490.24 854.6v-11.4M500.94 854.6v-11.4M508.52 854.6v-11.4M514.41 854.6v-11.4M514.41 854.6v-18.5" stroke="#000" stroke-width="1.25" fill="none"/>
<g transform="translate(59.9 841.9) rotate(-90)"><path d="M515 0V1237L197 1010V1180L530 1409H696V0Z" transform="translate(-15.5 0) scale(0.00967 -0.00967)"/><text x="-4.49" y="0">0</text><text x="7.5" y="-9.8" font-size="13.3">0</text></g>
<text x="74.7" y="880.7">10</text><text x="97.5" y="871.4" font-size="13.3">0</text>
<g transform="translate(59.9 793.96) rotate(-90)"><path d="M515 0V1237L197 1010V1180L530 1409H696V0Z" transform="translate(-15.5 0) scale(0.00967 -0.00967)"/><text x="-4.49" y="0">0</text><text x="7.5" y="-9.8" font-size="13.3">1</text></g>
<text x="135.43" y="880.7">10</text><text x="158.23" y="871.4" font-size="13.3">1</text>
<g transform="translate(59.9 746.02) rotate(-90)"><path d="M515 0V1237L197 1010V1180L530 1409H696V0Z" transform="translate(-15.5 0) scale(0.00967 -0.00967)"/><text x="-4.49" y="0">0</text><text x="7.5" y="-9.8" font-size="13.3">2</text></g>
<text x="196.16" y="880.7">10</text><text x="218.96" y="871.4" font-size="13.3">2</text>
<g transform="translate(59.9 698.08) rotate(-90)"><path d="M515 0V1237L197 1010V1180L530 1409H696V0Z" transform="translate(-15.5 0) scale(0.00967 -0.00967)"/><text x="-4.49" y="0">0</text><text x="7.5" y="-9.8" font-size="13.3">3</text></g>
<text x="256.89" y="880.7">10</text><text x="279.69" y="871.4" font-size="13.3">3</text>
<g transform="translate(59.9 650.14) rotate(-90)"><path d="M515 0V1237L197 1010V1180L530 1409H696V0Z" transform="translate(-15.5 0) scale(0.00967 -0.00967)"/><text x="-4.49" y="0">0</text><text x="7.5" y="-9.8" font-size="13.3">4</text></g>
<text x="317.62" y="880.7">10</text><text x="340.42" y="871.4" font-size="13.3">4</text>
<g transform="translate(59.9 602.2) rotate(-90)"><path d="M515 0V1237L197 1010V1180L530 1409H696V0Z" transform="translate(-15.5 0) scale(0.00967 -0.00967)"/><text x="-4.49" y="0">0</text><text x="7.5" y="-9.8" font-size="13.3">5</text></g>
<text x="378.35" y="880.7">10</text><text x="401.15" y="871.4" font-size="13.3">5</text>
<g transform="translate(59.9 554.26) rotate(-90)"><path d="M515 0V1237L197 1010V1180L530 1409H696V0Z" transform="translate(-15.5 0) scale(0.00967 -0.00967)"/><text x="-4.49" y="0">0</text><text x="7.5" y="-9.8" font-size="13.3">6</text></g>
<text x="439.08" y="880.7">10</text><text x="461.88" y="871.4" font-size="13.3">6</text>
<g transform="translate(59.9 506.32) rotate(-90)"><path d="M515 0V1237L197 1010V1180L530 1409H696V0Z" transform="translate(-15.5 0) scale(0.00967 -0.00967)"/><text x="-4.49" y="0">0</text><text x="7.5" y="-9.8" font-size="13.3">7</text></g>
<text x="499.81" y="880.7">10</text><text x="522.61" y="871.4" font-size="13.3">7</text>
<text transform="translate(31 673.9) rotate(-90)" text-anchor="middle">Number of T and C</text>
<text x="301.3" y="910" text-anchor="middle">Number of patents, P</text>
<rect x="210.6" y="525.9" width="189.6" height="72" fill="#fff" stroke="#000" stroke-width="1.25"/>
<path d="M228.9 542.9l6.06 10.49h-12.12z" fill="none" stroke="#00f" stroke-width="1.5" stroke-linejoin="round"/>
<text x="248.1" y="557.8">C: combinations</text>
<path d="M224.4 573.9a4.5 4.5 0 1 0 9 0a4.5 4.5 0 1 0 -9 0" fill="none" stroke="#000" stroke-width="1.5"/>
<text x="248.1" y="581.8">T: codes</text>
</g></svg>
</body></html>
